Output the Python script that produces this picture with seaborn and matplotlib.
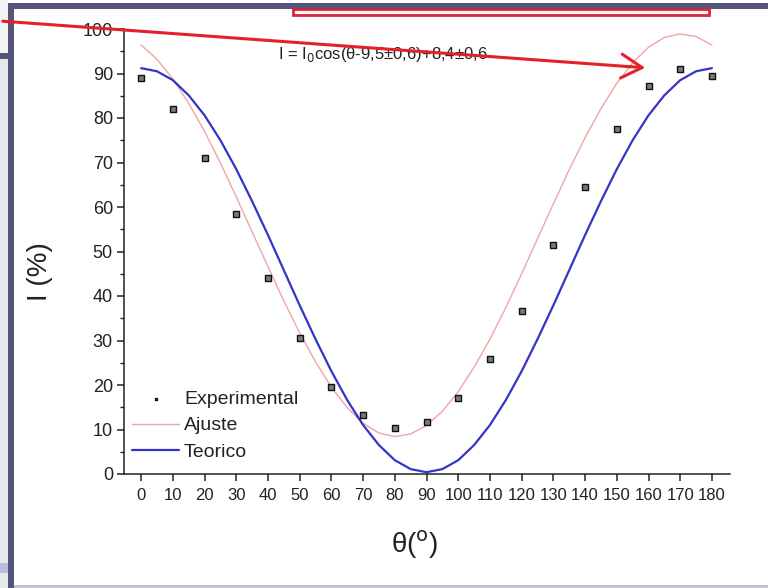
import numpy as np
import pandas as pd
import matplotlib
matplotlib.use('Agg')
import matplotlib.pyplot as plt
import seaborn as sns
from matplotlib.patches import Rectangle, FancyArrowPatch

theta_exp = list(range(0, 181, 10))
i_exp = [89.0, 82.0, 71.0, 58.5, 44.0, 30.6, 19.6, 13.3, 10.3, 11.6,
         17.1, 25.8, 36.7, 51.4, 64.5, 77.5, 87.2, 91.0, 89.4]

# curvas: ajuste y teorico, cada 5 grados
theta_curve = list(range(0, 181, 5))
i_ajuste = [96.4, 93.2, 88.8, 83.3, 77.0, 69.9, 62.3, 54.4, 46.6, 38.9,
            31.7, 25.2, 19.5, 14.9, 11.4, 9.2, 8.4, 9.0, 10.9, 14.1,
            18.5, 24.0, 30.3, 37.4, 45.0, 52.9, 60.7, 68.4, 75.6, 82.1,
            87.8, 92.4, 95.9, 98.1, 98.9, 98.3, 96.4]
i_teorico = [91.2, 90.5, 88.5, 85.1, 80.6, 75.0, 68.5, 61.3, 53.7, 45.8,
             37.9, 30.3, 23.1, 16.6, 11.0, 6.5, 3.1, 1.1, 0.4, 1.1,
             3.1, 6.5, 11.0, 16.6, 23.1, 30.3, 37.9, 45.8, 53.7, 61.3,
             68.5, 75.0, 80.6, 85.1, 88.5, 90.5, 91.2]

x_ticks = list(range(0, 181, 10))
y_ticks = list(range(0, 101, 10))

df_exp = pd.DataFrame({'theta': theta_exp, 'I': i_exp})
df_curve = pd.DataFrame({'theta': theta_curve, 'ajuste': i_ajuste, 'teorico': i_teorico})

sns.set_style('ticks')
plt.rcParams['font.family'] = ['Liberation Sans', 'DejaVu Sans']

W, H = 768, 588
fig = plt.figure(figsize=(W / 100, H / 100), dpi=100)
fig.patch.set_facecolor('white')


def fx(x):
    return x / W


def fy(y):
    return 1 - y / H


def box(x0, y0, x1, y1, **kw):
    r = Rectangle((fx(x0), fy(y1)), fx(x1) - fx(x0), fy(y0) - fy(y1),
                  transform=fig.transFigure, **kw)
    fig.add_artist(r)


# marco de la diapositiva
slate = '#55557a'
box(0, 58, 8, 588, facecolor='#e7e7ee', edgecolor='none')
box(0, 0, 8, 53, facecolor='#f6f3f6', edgecolor='none')
box(0, 53, 8, 59, facecolor=slate, edgecolor='none')
box(0, 563, 8, 573, facecolor='#bcbcdc', edgecolor='none')
box(8, 3, 14, 588, facecolor=slate, edgecolor='none')
box(8, 3, 768, 9, facecolor=slate, edgecolor='none')
box(14, 585, 768, 588, facecolor='#c4c4d0', edgecolor='none')
box(293, 9, 709, 15, facecolor='#fff2f4', edgecolor='#d0283c', linewidth=2)

ax = fig.add_axes([fx(124), fy(474), fx(730) - fx(124), fy(29) - fy(474)])
ax.set_facecolor('none')

sns.lineplot(data=df_curve, x='theta', y='ajuste', ax=ax, color='#f2a4a4',
             linewidth=1.0, label='Ajuste')
sns.lineplot(data=df_curve, x='theta', y='teorico', ax=ax, color='#3434c8',
             linewidth=1.6, label='Teorico')
sns.scatterplot(data=df_exp, x='theta', y='I', ax=ax, marker='s', s=14,
                color='#7a7a7a', edgecolor='#111111', linewidth=1.0,
                label='Experimental', zorder=5)

ax.set_xlim(-5.4, 185.7)
ax.set_ylim(0, 100)
ax.set_xticks(x_ticks)
ax.set_yticks(y_ticks)
ax.set_yticks(np.arange(5, 100, 10), minor=True)
sns.despine(ax=ax)
for s in ['left', 'bottom']:
    ax.spines[s].set_linewidth(1.1)
    ax.spines[s].set_color('#222222')
ax.tick_params(axis='both', which='major', direction='out', length=5,
               width=1.1, color='#222222')
ax.tick_params(axis='y', which='minor', direction='out', length=3,
               width=1.0, color='#222222')
ax.tick_params(axis='y', labelsize=13, pad=3, labelcolor='#222222')
ax.tick_params(axis='x', pad=5, labelcolor='#222222')
for lab in ax.get_xticklabels():
    lab.set_fontfamily(['Liberation Sans Narrow', 'Liberation Sans'])
    lab.set_fontsize(12)

ax.set_xlabel('θ($^{\\mathrm{o}}$)', fontsize=20, color='#222222')
ax.xaxis.set_label_coords(0.48, -0.16)
ax.xaxis.label.set_verticalalignment('center')
ax.set_ylabel('I (%)', fontsize=20, color='#222222')
ax.yaxis.set_label_coords(-0.139, 0.454)
ax.yaxis.label.set_verticalalignment('center')

h, l = ax.get_legend_handles_labels()
order = [l.index('Experimental'), l.index('Ajuste'), l.index('Teorico')]
leg = ax.legend([h[i] for i in order], [l[i] for i in order],
                loc='upper left', bbox_to_anchor=(0.014, 0.188), frameon=False,
                fontsize=14, handlelength=2.4, handletextpad=0.25,
                labelspacing=0.45, borderpad=0, borderaxespad=0,
                markerscale=0.45)
for t in leg.get_texts():
    t.set_color('#222222')

fig.text(fx(278), fy(55), 'I = I$_0$cos(θ-9,5±0,6)+8,4±0,6', fontsize=12,
         va='center', ha='left', color='#222222')

arrow = FancyArrowPatch((fx(0), fy(21)), (fx(648), fy(68)),
                        transform=fig.transFigure,
                        arrowstyle='->,head_length=15,head_width=8.6',
                        mutation_scale=1, color='#e42128', linewidth=2.2,
                        zorder=10)
fig.add_artist(arrow)

fig.savefig('out.png', dpi=100)
